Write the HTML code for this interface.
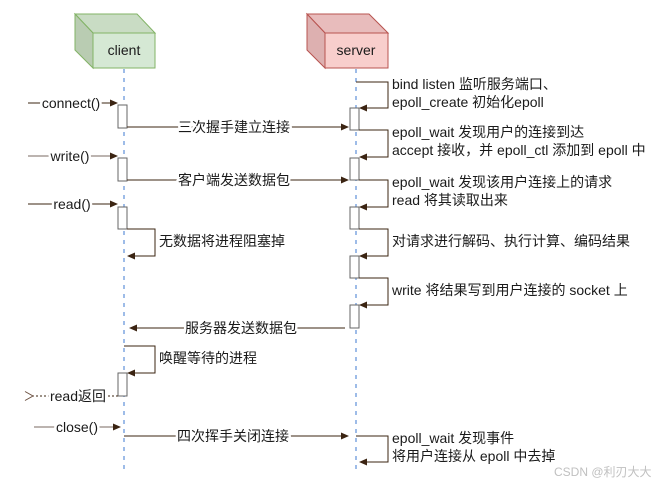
<!DOCTYPE html>
<html><head><meta charset="utf-8"><style>
html,body{margin:0;padding:0;background:#fff;}
svg{display:block;}
text{font-family:"Liberation Sans","Noto Sans CJK SC",sans-serif;font-size:14px;fill:#1a1a1a;}
.l{stroke:#fff;stroke-width:5px;paint-order:stroke;stroke-linejoin:round;}
</style></head><body>
<svg width="658" height="486" viewBox="0 0 658 486" xmlns="http://www.w3.org/2000/svg">
<defs>
<marker id="a" markerWidth="8" markerHeight="8" refX="7" refY="4" orient="auto" markerUnits="userSpaceOnUse">
<path d="M0,0.5 L8,4 L0,7.5 Z" fill="#3b2412"/></marker>
<marker id="o" markerWidth="10" markerHeight="10" refX="1" refY="5" orient="auto" markerUnits="userSpaceOnUse">
<path d="M9,0.5 L1,5 L9,9.5" fill="none" stroke="#6b5040" stroke-width="1"/></marker>
</defs>
<polygon points="75,14 137,14 155,33 93,33" fill="#c9dcc4" stroke="#82b366"/>
<polygon points="75,14 93,33 93,68 75,50" fill="#b9ccb2" stroke="#82b366"/>
<rect x="93" y="33" width="62" height="35" fill="#d5e8d4" stroke="#82b366"/>
<text x="124" y="55" text-anchor="middle">client</text>
<polygon points="307,14 369,14 388,33 325,33" fill="#e8bcbc" stroke="#b85450"/>
<polygon points="307,14 325,33 325,68 307,50" fill="#ddb0b0" stroke="#b85450"/>
<rect x="325" y="33" width="63" height="35" fill="#f8cecc" stroke="#b85450"/>
<text x="356" y="55" text-anchor="middle">server</text>
<line x1="124" y1="69" x2="124" y2="472" stroke="#7ea6e0" stroke-width="1.5" stroke-dasharray="4,5"/>
<line x1="356" y1="69" x2="356" y2="472" stroke="#7ea6e0" stroke-width="1.5" stroke-dasharray="4,5"/>
<g fill="#fff" stroke="#666" stroke-width="1">
<rect x="118" y="105" width="9" height="23"/>
<rect x="118" y="158" width="9" height="23"/>
<rect x="118" y="207" width="9" height="22"/>
<rect x="118" y="373" width="9" height="23"/>
<rect x="350" y="108" width="9" height="22"/>
<rect x="350" y="158" width="9" height="22"/>
<rect x="350" y="207" width="9" height="22"/>
<rect x="350" y="256" width="9" height="22"/>
<rect x="350" y="305" width="9" height="23"/>
</g>
<g stroke="#3b2412" stroke-width="1" fill="none">
<line x1="28" y1="103" x2="117" y2="103" marker-end="url(#a)"/>
<line x1="28" y1="156" x2="117" y2="156" marker-end="url(#a)" stroke="#7a6a60"/>
<line x1="28" y1="204" x2="117" y2="204" marker-end="url(#a)"/>
<line x1="127" y1="127" x2="348" y2="127" marker-end="url(#a)"/>
<line x1="127" y1="180" x2="348" y2="180" marker-end="url(#a)"/>
<polyline points="127,229 155,229 155,256 128,256" marker-end="url(#a)"/>
<line x1="345" y1="328" x2="130" y2="328" marker-end="url(#a)"/>
<polyline points="124,346 155,346 155,373 128,373" marker-end="url(#a)"/>
<line x1="118" y1="396" x2="33" y2="396" stroke-dasharray="2,2" marker-end="url(#o)"/>
<line x1="34" y1="427" x2="120" y2="427" marker-end="url(#a)" stroke="#7a6a60"/>
<line x1="124" y1="436" x2="348" y2="436" marker-end="url(#a)"/>
<polyline points="356,82 388,82 388,108 360,108" marker-end="url(#a)"/>
<polyline points="359,130 388,130 388,157 360,157" marker-end="url(#a)"/>
<polyline points="359,180 388,180 388,207 360,207" marker-end="url(#a)"/>
<polyline points="359,229 388,229 388,256 360,256" marker-end="url(#a)"/>
<polyline points="359,278 388,278 388,305 360,305" marker-end="url(#a)"/>
<polyline points="356,436 388,436 388,462 360,462" marker-end="url(#a)"/>
</g>
<text class="l" x="71" y="108" text-anchor="middle">connect()</text>
<text class="l" x="70" y="161" text-anchor="middle">write()</text>
<text class="l" x="72" y="209" text-anchor="middle">read()</text>
<text class="l" x="78" y="401" text-anchor="middle">read返回</text>
<text class="l" x="77" y="432" text-anchor="middle">close()</text>
<text class="l" x="234" y="132" text-anchor="middle">三次握手建立连接</text>
<text class="l" x="234" y="185" text-anchor="middle">客户端发送数据包</text>
<text class="l" x="241" y="333" text-anchor="middle">服务器发送数据包</text>
<text class="l" x="233" y="441" text-anchor="middle">四次挥手关闭连接</text>
<text x="159" y="246">无数据将进程阻塞掉</text>
<text x="159" y="363">唤醒等待的进程</text>
<text x="392" y="89">bind listen 监听服务端口、</text>
<text x="392" y="107">epoll_create 初始化epoll</text>
<text x="392" y="137">epoll_wait 发现用户的连接到达</text>
<text x="392" y="155">accept 接收，并 epoll_ctl 添加到 epoll 中</text>
<text x="392" y="187">epoll_wait 发现该用户连接上的请求</text>
<text x="392" y="205">read 将其读取出来</text>
<text x="392" y="246">对请求进行解码、执行计算、编码结果</text>
<text x="392" y="295">write 将结果写到用户连接的 socket 上</text>
<text x="392" y="443">epoll_wait 发现事件</text>
<text x="392" y="461">将用户连接从 epoll 中去掉</text>
<text x="554" y="476" style="font-size:12px;fill:#c0c0c0">CSDN @利刃大大</text>
</svg>
</body></html>
